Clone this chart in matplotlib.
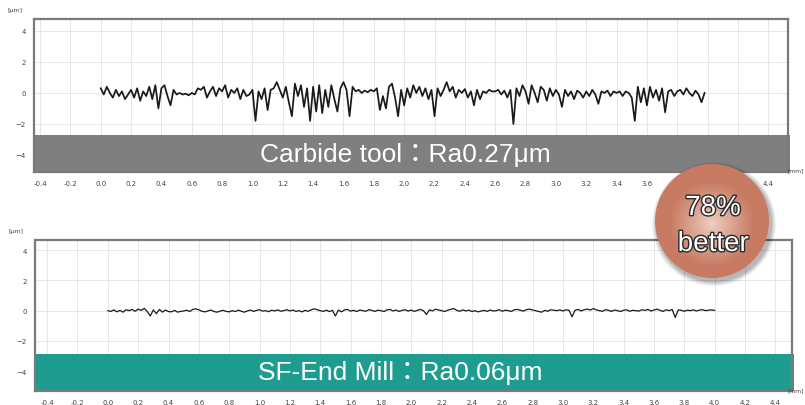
import numpy as np
import matplotlib
matplotlib.use("Agg")
import matplotlib.pyplot as plt
import matplotlib.patheffects as pe
from matplotlib.patches import Circle, Rectangle

# ---- data (profile heights in um, sampled every 0.02 mm) ----
carbide_start, carbide_step = 0.0, 0.02
carbide_um = [
    0.3, -0.1, 0.4, 0.0, -0.3, 0.2, -0.2, 0.1, -0.4, -0.1,
    0.2, -0.3, 0.3, -0.5, 0.1, -0.2, 0.4, -0.4, 0.5, -1.0,
    0.3, 0.5, -0.2, -0.8, 0.2, -0.1, 0.0, -0.1, -0.05, -0.15,
    0.0, -0.1, 0.3, 0.2, 0.4, -0.3, 0.1, 0.4, -0.2, 0.3,
    0.1, 0.5, -0.3, 0.2, 0.0, 0.3, -0.4, 0.2, -0.2, -0.1,
    0.2, -1.8, 0.1, -0.4, 0.3, -1.1, 0.2, 0.3, 0.7, 0.2,
    -0.3, 0.4, -0.6, -1.5, 0.6, -0.2, 0.5, -0.9, 0.3, -1.8,
    0.4, -1.2, 0.5, -1.3, 0.2, -0.9, 0.5, -0.4, -1.2, 0.3,
    0.7, 0.2, -1.5, 0.4, 0.1, 0.2, 0.0, 0.15, 0.05, 0.2,
    0.1, 0.3, -1.1, -0.2, -1.0, 0.4, 0.6, -0.3, -1.5, 0.2,
    -0.8, 0.3, -0.3, 0.5, 0.0, 0.4, -0.2, 0.3, -0.4, 0.2,
    -1.5, 0.3, -0.2, 0.2, 0.7, 0.1, 0.4, -0.3, 0.2, 0.0,
    0.25, -0.3, 0.1, -0.8, 0.2, -0.4, 0.1, 0.0, 0.2, 0.1,
    0.1, 0.2, -0.1, 0.15, -0.3, 0.2, -2.0, 0.3, -0.2, 0.5,
    0.1, -0.7, 0.5, 0.0, -0.6, 0.4, 0.2, -0.5, 0.3, -0.2,
    0.2, -0.1, -0.9, 0.2, -0.2, 0.1, -0.4, 0.15, 0.0, -0.3,
    0.1, -0.2, 0.2, -0.1, -0.7, 0.1, 0.0, 0.15, -0.2, 0.1,
    0.0, 0.1, -0.2, 0.1, 0.0, -0.3, -1.8, 0.4, -0.6, 0.3,
    -0.8, 0.4, -0.3, 0.2, -0.5, 0.3, -1.25, 0.1, 0.2, -0.2,
    0.1, 0.2, -0.1, 0.3, 0.0, -0.2, 0.15, -0.1, -0.6, 0.0,
]

sf_start, sf_step = 0.0, 0.02
sf_um = [
    0.0, -0.05, 0.05, -0.08, 0.02, -0.1, 0.06, 0.0, 0.08, -0.04,
    0.1, 0.02, 0.15, -0.06, -0.35, 0.05, -0.2, 0.08, -0.1, 0.04,
    -0.06, -0.08, 0.02, -0.1, -0.05, -0.02, 0.03, -0.06, 0.08, 0.12,
    0.05, -0.04, -0.08, -0.02, 0.04, -0.06, -0.1, -0.03, 0.02, -0.05,
    -0.08, 0.0, -0.06, 0.03, -0.04, -0.1, -0.02, 0.04, -0.05, 0.02,
    0.06, -0.03, 0.0, -0.07, 0.03, -0.02, 0.05, -0.04, 0.0, 0.06,
    -0.02, 0.04, -0.05, 0.0, -0.08, 0.02, -0.04, 0.05, 0.12, 0.06,
    0.0, -0.05, 0.03, -0.06, 0.02, -0.35, 0.04, -0.08, 0.05, 0.08,
    -0.03, 0.02, -0.06, 0.04, 0.0, -0.04, 0.06, 0.02, -0.05, 0.03,
    0.0, -0.06, 0.05, 0.08, -0.02, 0.04, -0.05, 0.02, 0.06, -0.03,
    0.04, -0.05, 0.02, 0.08, 0.0, -0.25, 0.05, -0.02, 0.1, 0.04,
    0.0, -0.06, 0.03, 0.08, 0.14, 0.02, -0.04, 0.05, -0.02, 0.03,
    -0.06, 0.0, -0.08, -0.03, 0.02, -0.05, 0.04, -0.02, 0.0, 0.06,
    -0.04, 0.03, 0.0, -0.05, 0.06, 0.08, 0.02, -0.03, 0.07, 0.1,
    0.04, 0.0, -0.06, -0.1, 0.02, -0.04, 0.06, 0.03, 0.0, 0.05,
    -0.02, 0.06, 0.02, -0.4, 0.03, 0.08, -0.02, 0.06, 0.1, 0.04,
    0.14, 0.05, 0.0, -0.04, 0.06, 0.02, -0.05, 0.04, 0.0, -0.06,
    0.03, 0.05, -0.04, 0.02, 0.0, -0.03, 0.06, 0.02, 0.08, -0.02,
    0.04, 0.1, 0.02, -0.05, 0.06, 0.0, 0.08, -0.45, 0.05, 0.02,
    -0.04, 0.03, 0.0, 0.05, -0.02, 0.04, 0.06, 0.0, 0.03, 0.05,
    0.02,
]

x_ticks = [-0.4, -0.2, 0.0, 0.2, 0.4, 0.6, 0.8, 1.0, 1.2, 1.4, 1.6, 1.8, 2.0,
           2.2, 2.4, 2.6, 2.8, 3.0, 3.2, 3.4, 3.6, 3.8, 4.0, 4.2, 4.4]
y_ticks = [-4, -2, 0, 2, 4]

labels = ["Carbide tool：Ra0.27μm", "SF-End Mill：Ra0.06μm"]
badge = ["78%", "better"]

fam = ["Liberation Sans", "Noto Sans CJK JP", "DejaVu Sans"]

fig = plt.figure(figsize=(8.05, 4.06), dpi=100)


def profile_axes(rect, xlim, ylim, xs, ys, lw, band_color, band_h, text, tx, ty):
    ax = fig.add_axes(rect)
    ax.plot(xs, ys, color="#1a1a1a", lw=lw, zorder=3)
    ax.set_xlim(*xlim)
    ax.set_ylim(*ylim)
    ax.set_xticks(x_ticks)
    ax.set_xticklabels(["%.1f" % v for v in x_ticks])
    ax.set_yticks(y_ticks)
    ax.grid(True, color="#e6e6e6", lw=0.7, zorder=0)
    ax.tick_params(length=0, labelsize=5, colors="#444444", pad=6)
    for s in ax.spines.values():
        s.set_color("#7a7a7a")
        s.set_linewidth(1.6)
        s.set_zorder(6)
    ax.add_patch(Rectangle((0, 0), 1.003, band_h, transform=ax.transAxes,
                           color=band_color, zorder=5, clip_on=False, lw=0))
    ax.text(tx, ty, text, transform=ax.transAxes, ha="center", va="center",
            color="white", fontsize=19, family=fam, zorder=7)
    ax.text(-0.025, 1.06, "[μm]", transform=ax.transAxes, fontsize=4.5,
            color="#444444", ha="center", va="center")
    return ax


xs1 = carbide_start + carbide_step * np.arange(len(carbide_um))
xs2 = sf_start + sf_step * np.arange(len(sf_um))

profile_axes([0.0422, 0.5739, 0.9367, 0.3768], (-0.44, 4.53), (-5.1, 4.77),
             xs1, carbide_um, 1.25, "#7f7f7f", 0.245, labels[0], 0.492, 0.118)
profile_axes([0.0435, 0.0345, 0.9404, 0.3719], (-0.48, 4.51), (-5.3, 4.66),
             xs2, sf_um, 0.9, "#1e9c8f", 0.245, labels[1], 0.483, 0.126)

# axis unit labels at the right edge
fig.text(0.999, 1 - 171 / 406, "[mm]", fontsize=4.3, color="#444444",
         ha="right", va="center")
fig.text(0.999, 1 - 391 / 406, "[mm]", fontsize=4.3, color="#444444",
         ha="right", va="center")

# ---- badge overlay in pixel coordinates ----
ov = fig.add_axes([0, 0, 1, 1], zorder=20)
ov.axis("off")

cx, cy, r = 712, 222, 57
for k, a in enumerate([0.05, 0.05, 0.06, 0.07, 0.08]):
    ov.add_patch(Circle((cx + 2, cy + 3), r + 5 - k, color="black", alpha=a, lw=0))

gy, gx = np.mgrid[-1:1:200j, -1:1:200j]
d = np.clip(np.sqrt(gx ** 2 + (gy - 0.05) ** 2), 0, 1)
inner = np.array([238, 210, 196]) / 255
outer = np.array([200, 122, 98]) / 255
t = np.clip(d / 0.75, 0, 1)[..., None] ** 0.9
img = inner * (1 - t) + outer * t
disk = Circle((cx, cy), r, transform=ov.transData, lw=0)
im = ov.imshow(img, extent=(cx - r, cx + r, cy + r, cy - r), zorder=2)
im.set_clip_path(disk)
ov.set_xlim(0, 805)
ov.set_ylim(406, 0)

for txt, yy in zip(badge, [209, 245]):
    ov.text(cx + 1, yy, txt, ha="center", va="center", fontsize=20,
            family=fam, color="white", zorder=3,
            path_effects=[pe.withStroke(linewidth=2.0, foreground="#2a2a2a")])

fig.savefig("out.png", dpi=100)
